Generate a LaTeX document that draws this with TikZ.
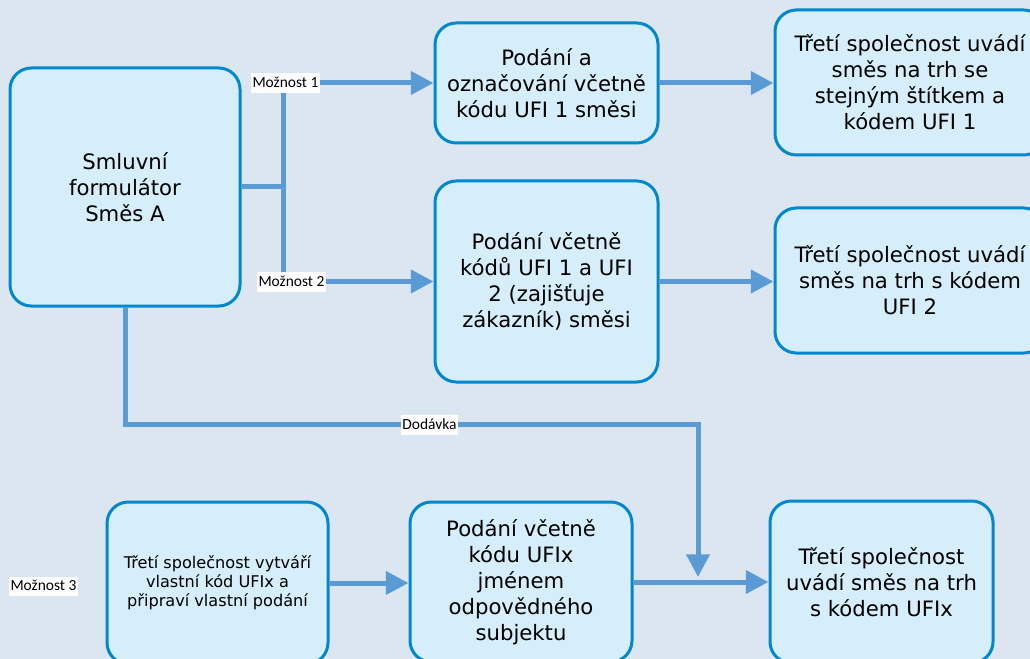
\documentclass[tikz,border=0pt]{standalone}
\usepackage{fontspec}
\setmainfont{DejaVu Sans}
\newfontfamily\labelfont{Carlito}
\usetikzlibrary{arrows.meta}

\definecolor{canvas}{RGB}{220,230,241}
\definecolor{boxfill}{RGB}{214,237,250}
\definecolor{boxline}{RGB}{0,136,204}
\definecolor{flow}{RGB}{91,155,213}

\begin{document}
\begin{tikzpicture}[x=0.75pt,y=-0.75pt,
  box/.style={draw=boxline, fill=boxfill, line width=2.25pt, rounded corners=16pt,
    align=center, inner sep=0pt, font=\fontsize{15.9}{19.5}\selectfont},
  smallbox/.style={box, font=\fontsize{12.1}{14.25}\selectfont},
  flowline/.style={draw=flow, line width=3.75pt},
  flowarrow/.style={flowline, -{Triangle[length=17pt,width=17pt]}},
  tag/.style={fill=white, font=\labelfont\fontsize{11.6}{13}\selectfont,
    inner xsep=1.2pt, inner ysep=1.5pt, text height=9pt, text depth=2.8pt}
]
% canvas
\fill[canvas] (0,0) rectangle (1030,659);
\useasboundingbox (0,0) rectangle (1030,659);

% boxes
\node[box, minimum width=172.5pt, minimum height=178.5pt] (A) at (125,187)
  {Smluvní\\formulátor\\Směs A};
\node[box, minimum width=167.25pt, minimum height=90pt] (B1) at (546.5,83)
  {Podání a\\označování včetně\\kódu UFI 1 směsi};
\node[box, minimum width=202.5pt, minimum height=108.75pt] (C1) at (910,82.5)
  {Třetí společnost uvádí\\směs na trh se\\stejným štítkem a\\kódem UFI 1};
\node[box, minimum width=167.25pt, minimum height=150.75pt] (B2) at (546.5,281.5)
  {Podání včetně\\kódů UFI 1 a UFI\\2 (zajišťuje\\zákazník) směsi};
\node[box, minimum width=202.5pt, minimum height=108.75pt] (C2) at (910,280.5)
  {Třetí společnost uvádí\\směs na trh s kódem\\UFI 2};
\node[smallbox, minimum width=165.75pt, minimum height=121.5pt] (D) at (217.5,583)
  {Třetí společnost vytváří\\vlastní kód UFIx a\\připraví vlastní podání};
\node[box, minimum width=166.5pt, minimum height=120pt] (E) at (521,582)
  {Podání včetně\\kódu UFIx\\jménem\\odpovědného\\subjektu};
\node[box, minimum width=167.25pt, minimum height=121.5pt] (F) at (881.5,582)
  {Třetí společnost\\uvádí směs na trh\\s kódem UFIx};

% branching from the formulator
\coordinate (t1) at (283,83);
\coordinate (t2) at (283,281.5);
\draw[flowline] (A.east) -- (A.east -| t1);
\draw[flowline] (t1) -- (t2);
\draw[flowarrow] (t1) -- (B1.west);
\draw[flowarrow] (t2) -- (B2.west);
\draw[flowarrow] (B1.east) -- (B1.east -| C1.west);
\draw[flowarrow] (B2.east) -- (B2.east -| C2.west);

% delivery route
\coordinate (bend) at (698,424);
\coordinate (drop) at (698,577);
\draw[flowarrow, line join=miter] (A.south) |- (bend) -- (drop);

% option 3 chain
\draw[flowarrow] (D.east) -- (D.east -| E.west);
\draw[flowarrow] (E.east) -- (E.east -| F.west);

% labels
\node[tag] (opt1) at (285.5,83) {Možnost 1};
\node[tag] (opt2) at (291.5,282) {Možnost 2};
\node[tag] (deliv) at (429.5,425) {Dodávka};
\node[tag] (opt3) at (43.5,586.5) {Možnost 3};
\end{tikzpicture}
\end{document}
